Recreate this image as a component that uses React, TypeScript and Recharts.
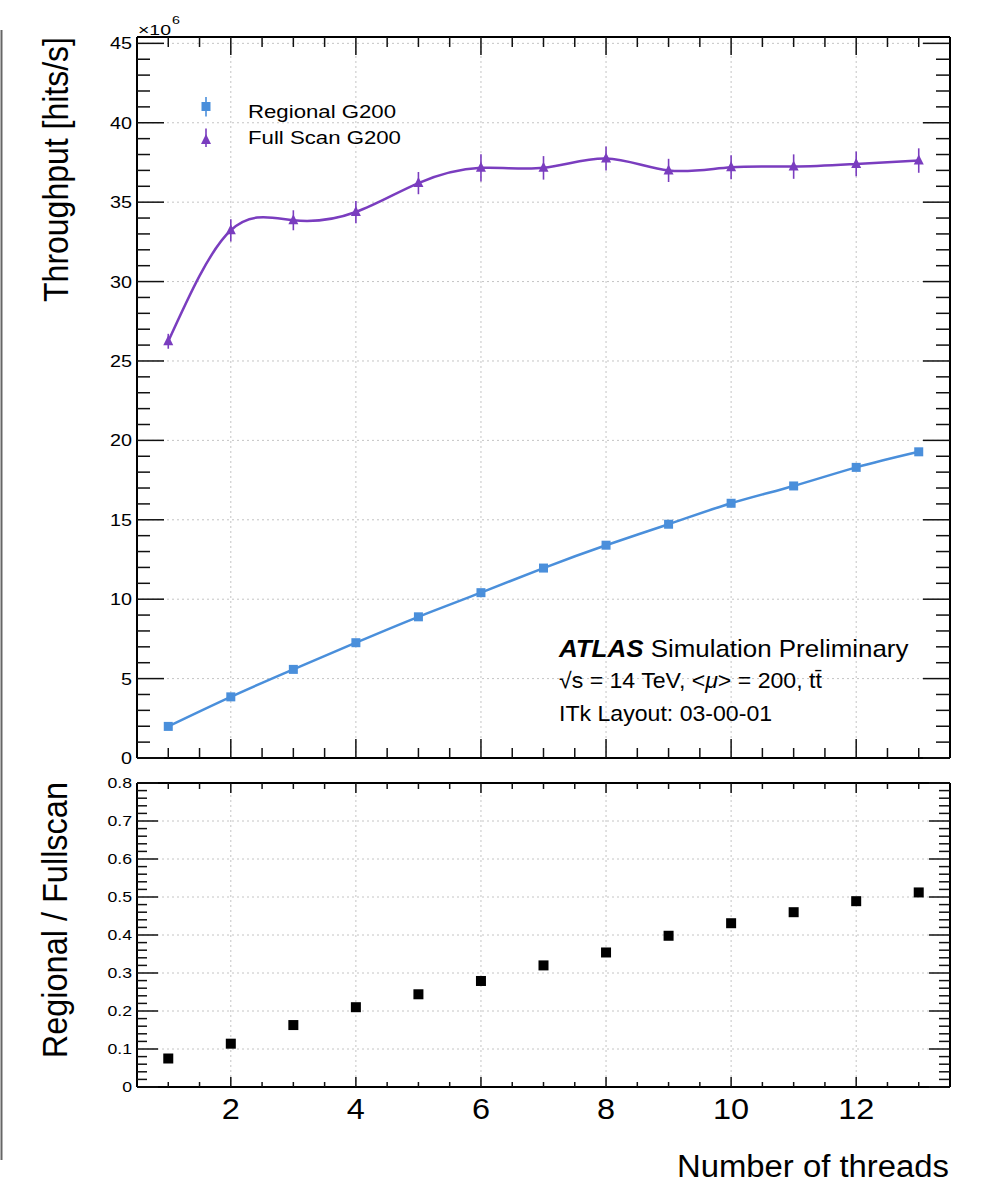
import React from 'react';
import { ComposedChart, Line, Scatter, XAxis, YAxis, ReferenceLine, ErrorBar } from 'recharts';

const FONT = "'Liberation Sans', Arial, Helvetica, sans-serif";
const BLUE = '#4a8fdb';
const PURPLE = '#7a3dbf';

// ---- data ----
const threads = [1, 2, 3, 4, 5, 6, 7, 8, 9, 10, 11, 12, 13];
const regionalG200 = [1.99, 3.85, 5.58, 7.26, 8.89, 10.41, 11.96, 13.4, 14.72, 16.04, 17.13, 18.3, 19.28];
const fullScanG200 = [26.24, 33.23, 33.86, 34.38, 36.2, 37.16, 37.16, 37.75, 37.0, 37.2, 37.24, 37.41, 37.62];
const fullScanErr = [0.47, 0.7, 0.63, 0.7, 0.7, 0.86, 0.74, 0.75, 0.73, 0.76, 0.77, 0.78, 0.77];
const ratioRegionalFull = [0.075, 0.114, 0.163, 0.21, 0.244, 0.279, 0.32, 0.354, 0.398, 0.431, 0.46, 0.489, 0.512];

const SERIES_NAMES = ['Regional G200', 'Full Scan G200'];

// ---- ticks ----
const X_TICKS = [1, 1.5, 2, 2.5, 3, 3.5, 4, 4.5, 5, 5.5, 6, 6.5, 7, 7.5, 8, 8.5, 9, 9.5, 10, 10.5, 11, 11.5, 12, 12.5, 13];
const X_MAJOR = [2, 4, 6, 8, 10, 12];
const X_LABELS = ['2', '4', '6', '8', '10', '12'];

const Y_MAJOR = [0, 5, 10, 15, 20, 25, 30, 35, 40, 45];
const Y_LABELS = ['0', '5', '10', '15', '20', '25', '30', '35', '40', '45'];
const Y_TICKS = Array.from({ length: 46 }, (_, i) => i);

const R_MAJOR = [0, 0.1, 0.2, 0.3, 0.4, 0.5, 0.6, 0.7, 0.8];
const R_LABELS = ['0', '0.1', '0.2', '0.3', '0.4', '0.5', '0.6', '0.7', '0.8'];
const R_TICKS = Array.from({ length: 41 }, (_, i) => Math.round(i * 2) / 100);

const X_DOMAIN: [number, number] = [0.5, 13.5];
const Y_DOMAIN: [number, number] = [0, 45.4];
const R_DOMAIN: [number, number] = [0, 0.8];

const topRows = threads.map((t, i) => ({
  threads: t,
  regional: regionalG200[i],
  full: fullScanG200[i],
  fullErr: fullScanErr[i],
}));
const ratioRows = threads.map((t, i) => ({ threads: t, ratio: ratioRegionalFull[i] }));

const AXIS_LINE = { stroke: '#000', strokeWidth: 2 };

type TickCfg = {
  side: 'left' | 'right' | 'top' | 'bottom';
  major: number[];
  labels?: string[];
  majorLen: number;
  minorLen: number;
  fontSize?: number;
  sx?: number;
  offset?: number;
};

const makeTick = (cfg: TickCfg) => (props: any) => {
  const { x, y, payload, index } = props;
  const v = payload.value as number;
  const mi = cfg.major.findIndex((m) => Math.abs(m - v) < 1e-6);
  const len = mi >= 0 ? cfg.majorLen : cfg.minorLen;
  const dx = cfg.side === 'left' ? len : cfg.side === 'right' ? -len : 0;
  const dy = cfg.side === 'top' ? len : cfg.side === 'bottom' ? -len : 0;
  let label: React.ReactNode = null;
  if (cfg.labels && mi >= 0) {
    if (cfg.side === 'left') {
      label = (
        <g transform={`translate(${x - (cfg.offset || 0)},${y}) scale(${cfg.sx || 1},1)`}>
          <text x={0} y={0} dy="0.36em" textAnchor="end" fontSize={cfg.fontSize} fontFamily={FONT} fill="#000">
            {cfg.labels[mi]}
          </text>
        </g>
      );
    } else {
      label = (
        <g transform={`translate(${x},${y + (cfg.offset || 0)}) scale(${cfg.sx || 1},1)`}>
          <text x={0} y={0} textAnchor="middle" fontSize={cfg.fontSize} fontFamily={FONT} fill="#000">
            {cfg.labels[mi]}
          </text>
        </g>
      );
    }
  }
  return (
    <g key={`tk-${cfg.side}-${index}`}>
      <line x1={x} y1={y} x2={x + dx} y2={y + dy} stroke="#111" strokeWidth={1.5} />
      {label}
    </g>
  );
};

const squareDot = (p: any) => (
  <rect key={`sq-${p.index}`} x={p.cx - 4.5} y={p.cy - 4.5} width={9} height={9} fill={BLUE} />
);
const triangleDot = (p: any) => (
  <path
    key={`tr-${p.index}`}
    d={`M${p.cx},${p.cy - 6} L${p.cx + 5},${p.cy + 4} L${p.cx - 5},${p.cy + 4} Z`}
    fill={PURPLE}
  />
);
const ratioShape = (p: any) => <rect x={p.cx - 5} y={p.cy - 5} width={10} height={10} fill="#000" />;

const GRID = { stroke: '#c4c4c4', strokeDasharray: '2 3', strokeWidth: 1 };

const W = 993;

const axisCommon = {
  interval: 0 as const,
  allowDataOverflow: true,
  tickSize: 0,
  tickMargin: 0,
  tickLine: false,
  axisLine: AXIS_LINE,
};

function TopPanel() {
  return (
    <ComposedChart
      width={W}
      height={775}
      data={topRows}
      margin={{ top: 36, left: 136, right: 42, bottom: 16 }}
      style={{ position: 'absolute', left: 0, top: 0 }}
    >
      <XAxis
        {...axisCommon}
        xAxisId="b"
        dataKey="threads"
        type="number"
        domain={X_DOMAIN}
        ticks={X_TICKS}
        height={1}
        orientation="bottom"
        tick={makeTick({ side: 'bottom', major: X_MAJOR, majorLen: 19, minorLen: 10 })}
      />
      <XAxis
        {...axisCommon}
        xAxisId="t"
        dataKey="threads"
        type="number"
        domain={X_DOMAIN}
        ticks={X_TICKS}
        height={1}
        orientation="top"
        tick={makeTick({ side: 'top', major: X_MAJOR, majorLen: 18, minorLen: 10 })}
      />
      <YAxis
        {...axisCommon}
        yAxisId="l"
        type="number"
        domain={Y_DOMAIN}
        ticks={Y_TICKS}
        width={1}
        orientation="left"
        tick={makeTick({
          side: 'left',
          major: Y_MAJOR,
          labels: Y_LABELS,
          majorLen: 27,
          minorLen: 13,
          fontSize: 16.5,
          sx: 1.2,
          offset: 5,
        })}
      />
      <YAxis
        {...axisCommon}
        yAxisId="r"
        type="number"
        domain={Y_DOMAIN}
        ticks={Y_TICKS}
        width={1}
        orientation="right"
        tick={makeTick({ side: 'right', major: Y_MAJOR, majorLen: 27, minorLen: 14 })}
      />
      {Y_MAJOR.filter((v) => v > 0).map((v) => (
        <ReferenceLine key={`gy${v}`} xAxisId="b" yAxisId="l" y={v} {...GRID} />
      ))}
      {X_MAJOR.map((v) => (
        <ReferenceLine key={`gx${v}`} xAxisId="b" yAxisId="l" x={v} {...GRID} />
      ))}
      <Line
        xAxisId="b"
        yAxisId="l"
        type="natural"
        dataKey="regional"
        name={SERIES_NAMES[0]}
        stroke={BLUE}
        strokeWidth={2.5}
        dot={squareDot}
        activeDot={false}
        isAnimationActive={false}
      />
      <Line
        xAxisId="b"
        yAxisId="l"
        type="natural"
        dataKey="full"
        name={SERIES_NAMES[1]}
        stroke={PURPLE}
        strokeWidth={2.5}
        dot={triangleDot}
        activeDot={false}
        isAnimationActive={false}
      >
        <ErrorBar dataKey="fullErr" width={0} stroke={PURPLE} strokeWidth={1.6} direction="y" isAnimationActive={false} />
      </Line>
    </ComposedChart>
  );
}

function RatioPanel() {
  return (
    <ComposedChart
      width={W}
      height={414}
      data={ratioRows}
      margin={{ top: 12, left: 136, right: 42, bottom: 96 }}
      style={{ position: 'absolute', left: 0, top: 770 }}
    >
      <XAxis
        {...axisCommon}
        xAxisId="b"
        dataKey="threads"
        type="number"
        domain={X_DOMAIN}
        ticks={X_TICKS}
        height={1}
        orientation="bottom"
        tick={makeTick({
          side: 'bottom',
          major: X_MAJOR,
          labels: X_LABELS,
          majorLen: 10,
          minorLen: 5,
          fontSize: 29,
          sx: 1.12,
          offset: 32,
        })}
      />
      <XAxis
        {...axisCommon}
        xAxisId="t"
        dataKey="threads"
        type="number"
        domain={X_DOMAIN}
        ticks={X_TICKS}
        height={1}
        orientation="top"
        tick={makeTick({ side: 'top', major: X_MAJOR, majorLen: 10, minorLen: 6 })}
      />
      <YAxis
        {...axisCommon}
        yAxisId="l"
        type="number"
        domain={R_DOMAIN}
        ticks={R_TICKS}
        width={1}
        orientation="left"
        tick={makeTick({
          side: 'left',
          major: R_MAJOR,
          labels: R_LABELS,
          majorLen: 21,
          minorLen: 10,
          fontSize: 14.5,
          sx: 1.22,
          offset: 5,
        })}
      />
      <YAxis
        {...axisCommon}
        yAxisId="r"
        type="number"
        domain={R_DOMAIN}
        ticks={R_TICKS}
        width={1}
        orientation="right"
        tick={makeTick({ side: 'right', major: R_MAJOR, majorLen: 21, minorLen: 11 })}
      />
      {R_MAJOR.filter((v) => v > 0 && v < 0.8).map((v) => (
        <ReferenceLine key={`ry${v}`} xAxisId="b" yAxisId="l" y={v} {...GRID} />
      ))}
      {X_MAJOR.map((v) => (
        <ReferenceLine key={`rx${v}`} xAxisId="b" yAxisId="l" x={v} {...GRID} />
      ))}
      <Scatter
        xAxisId="b"
        yAxisId="l"
        data={ratioRows}
        dataKey="ratio"
        shape={ratioShape}
        isAnimationActive={false}
      />
    </ComposedChart>
  );
}

function Overlay() {
  return (
    <svg
      width={W}
      height={1184}
      style={{ position: 'absolute', left: 0, top: 0, pointerEvents: 'none' }}
      fontFamily={FONT}
    >
      <line x1={1.5} y1={30} x2={1.5} y2={1160} stroke="#666" strokeWidth={2} />
      {/* exponent */}
      <g transform="translate(138,35) scale(1.3,1)">
        <text fontSize={15} fill="#000">×10</text>
      </g>
      <g transform="translate(172,24) scale(1.3,1)">
        <text fontSize={11} fill="#000">6</text>
      </g>
      {/* axis titles */}
      <g transform="translate(68,37) scale(1.1,1) rotate(-90)">
        <text textAnchor="end" fontSize={32} fill="#000">Throughput [hits/s]</text>
      </g>
      <g transform="translate(67,782) scale(1.1,1) rotate(-90)">
        <text textAnchor="end" fontSize={32.5} fill="#000">Regional / Fullscan</text>
      </g>
      <g transform="translate(949,1177) scale(1.06,1)">
        <text textAnchor="end" fontSize={31} fill="#000">Number of threads</text>
      </g>
      {/* legend */}
      <line x1={206} y1={97} x2={206} y2={116.5} stroke={BLUE} strokeWidth={1.6} />
      <rect x={201.5} y={102} width={9} height={9} fill={BLUE} />
      <line x1={206} y1={128.5} x2={206} y2={147} stroke={PURPLE} strokeWidth={1.6} />
      <path d="M206,134 L211,144 L201,144 Z" fill={PURPLE} />
      <g transform="translate(248,117.5) scale(1.2,1)">
        <text fontSize={18.5} fill="#000">{SERIES_NAMES[0]}</text>
      </g>
      <g transform="translate(248,144) scale(1.2,1)">
        <text fontSize={18.5} fill="#000">{SERIES_NAMES[1]}</text>
      </g>
      {/* ATLAS label */}
      <g transform="translate(559,657) scale(1.08,1)">
        <text fontSize={24} fill="#000">
          <tspan fontWeight="bold" fontStyle="italic">ATLAS</tspan>
          <tspan>{' Simulation Preliminary'}</tspan>
        </text>
      </g>
      <g transform="translate(559,688) scale(1.05,1)">
        <text fontSize={22} fill="#000">
          <tspan>{'\u221As = 14 TeV, <'}</tspan>
          <tspan fontStyle="italic">{'\u03BC'}</tspan>
          <tspan>{'> = 200, t'}</tspan>
          <tspan>{'t\u0304'}</tspan>
        </text>
      </g>
      <g transform="translate(559,721) scale(1.05,1)">
        <text fontSize={22} fill="#000">ITk Layout: 03-00-01</text>
      </g>
    </svg>
  );
}

export default function App() {
  return (
    <div style={{ position: 'absolute', left: 0, top: 0, width: W, height: 1184, background: '#fff', overflow: 'hidden' }}>
      <TopPanel />
      <RatioPanel />
      <Overlay />
    </div>
  );
}
